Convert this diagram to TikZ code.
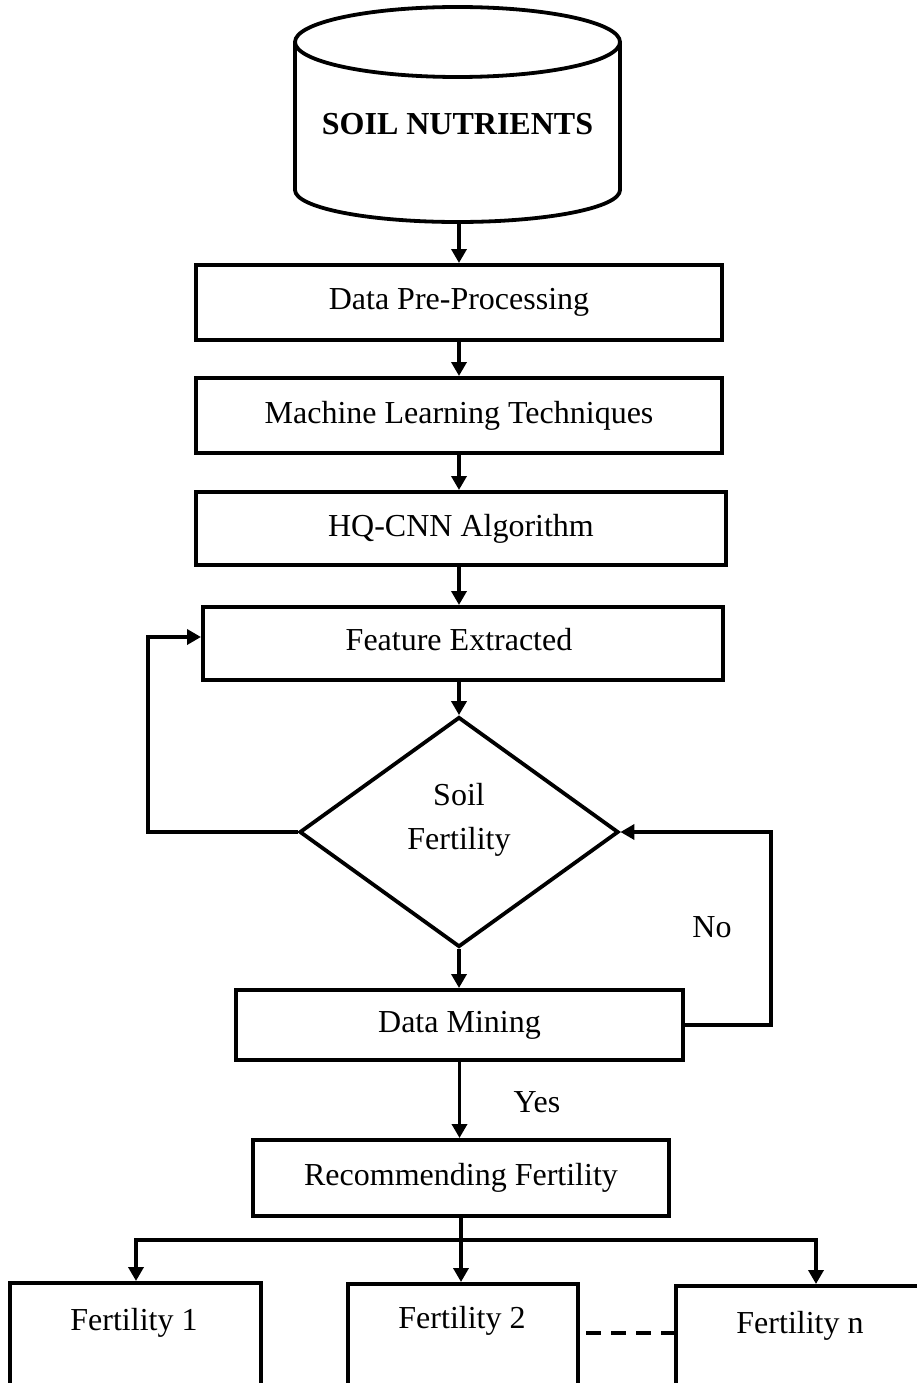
\documentclass[tikz,border=0pt]{standalone}
\usepackage{fontspec}
\setmainfont{Liberation Serif}
\usetikzlibrary{arrows.meta,shapes.geometric}
\tikzset{
  boxnode/.style={draw, line width=4pt, inner sep=0pt, rectangle, font=\fontsize{32}{44}\selectfont},
  lbl/.style={inner sep=0pt, font=\fontsize{32}{44}\selectfont, align=center},
  arr/.style={line width=3.6pt, -{Triangle[length=14pt,width=15pt]}},
  conn/.style={line width=3.6pt},
  dashline/.style={line width=4.5pt, dash pattern=on 15pt off 10pt}
}
\begin{document}
\begin{tikzpicture}[x=1pt,y=-1pt]
\useasboundingbox (0,0) rectangle (917,1383);
\clip (0,0) rectangle (917,1383);
\fill[white] (0,0) rectangle (917,1383);
% cylinder
\draw[line width=3.8pt] (457.5,42) ellipse [x radius=162.5pt, y radius=35pt];
\draw[line width=3.8pt] (295,42) -- (295,190) arc[start angle=180, end angle=360, x radius=162.5pt, y radius=32pt] -- (620,42);
\node[lbl, font=\fontsize{32}{44}\selectfont\bfseries] (cyl) at (457.5,124) {SOIL NUTRIENTS};
\coordinate (cylb) at (459,222);
% boxes
\node[boxnode, minimum width=526pt, minimum height=75pt] (pre) at (459,302.5) {Data Pre-Processing};
\node[boxnode, minimum width=526pt, minimum height=75pt] (ml) at (459,415.5) {Machine Learning Techniques};
\node[boxnode, minimum width=530pt, minimum height=73pt] (hq) at (461,528.5) {HQ-CNN Algorithm};
\node[boxnode, minimum width=520pt, minimum height=73pt] (fe) at (463,643.5) {};
\node[lbl] (fet) at (459,640) {Feature Extracted};
\node[draw, diamond, line width=3.8pt, minimum width=319pt, minimum height=230pt, inner sep=0pt] (dia) at (459,832) {};
\node[lbl] (diat) at (459,820) {Soil\\Fertility};
\node[boxnode, minimum width=447pt, minimum height=70pt] (dm) at (459.5,1025) {Data Mining};
\node[boxnode, minimum width=416pt, minimum height=76pt] (rec) at (461,1178) {Recommending Fertility};
\node[boxnode, minimum width=251pt, minimum height=200pt, anchor=north] (f1) at (135.5,1281) {};
\node[boxnode, minimum width=230pt, minimum height=200pt, anchor=north] (f2) at (463,1282) {};
\node[boxnode, minimum width=300pt, minimum height=200pt, anchor=north] (fn) at (826,1284) {};
\node[lbl] (f1t) at (134,1323) {Fertility 1};
\node[lbl] (f2t) at (462,1321) {Fertility 2};
\node[lbl] (fnt) at (800,1326) {Fertility n};
% labels
\node[lbl] (no) at (712,927) {No};
\node[lbl] (yes) at (537,1102) {Yes};
% connectors
\draw[arr] (cylb) -- (cylb |- pre.north);
\draw[arr] (pre.south) -- (pre.south |- ml.north);
\draw[arr] (ml.south) -- (ml.south |- hq.north);
\draw[arr] (ml.south |- hq.south) -- (ml.south |- fe.north);
\draw[arr] (dia.north |- fe.south) -- (dia.north);
\draw[arr] (dia.south) -- (dia.south |- dm.north);
\coordinate (loopL) at (148,637);
\draw[arr] (dia.west) -| (loopL) -- (loopL -| fe.west);
\coordinate (loopR) at (771,832);
\draw[arr] (dm.east) -| (loopR) -- (dia.east);
\draw[arr] (dm.south) -- (dm.south |- rec.north);
\coordinate (busL) at (136,1240);
\coordinate (busR) at (816,1240);
\draw[conn] (rec.south) -- (rec.south |- busL);
\draw[conn] ([xshift=-1.8pt]busL) -- ([xshift=1.8pt]busR);
\draw[arr] (busL) -- (busL |- f1.north);
\draw[arr] (rec.south |- busL) -- (rec.south |- f2.north);
\draw[arr] (busR) -- (busR |- fn.north);
\coordinate (dashy) at (0,1333);
\draw[dashline] (f2.east |- dashy) ++(6,0) -- (fn.west |- dashy);
\end{tikzpicture}
\end{document}
